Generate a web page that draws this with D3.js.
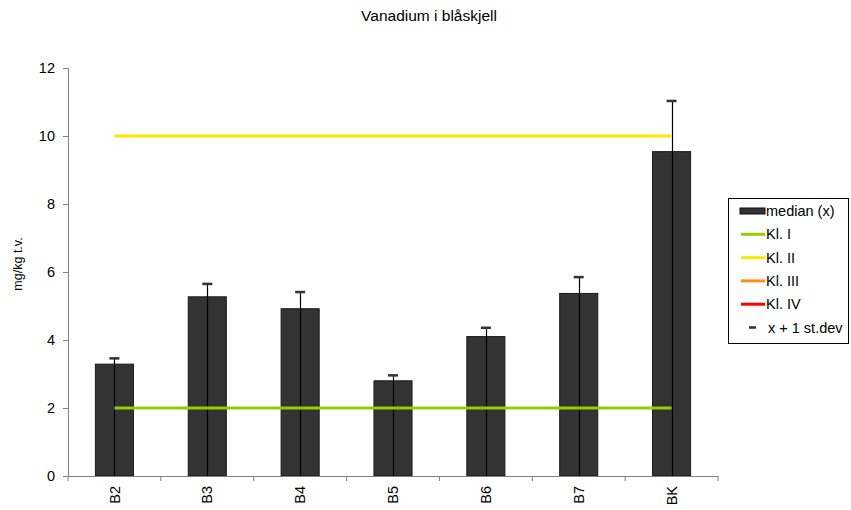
<!DOCTYPE html>
<html><head><meta charset="utf-8">
<script src="https://cdn.jsdelivr.net/npm/d3@7"></script>
<style>body{margin:0;background:#fff;} svg{display:block;font-family:"Liberation Sans",Arial,sans-serif;}</style>
</head><body>
<svg id="c" width="851" height="510"></svg>
<script>
const categories = ["B2","B3","B4","B5","B6","B7","BK"];
const medianValues = [3.29, 5.27, 4.92, 2.80, 4.10, 5.37, 9.54];
const plusStdev = [3.46, 5.65, 5.41, 2.96, 4.36, 5.85, 11.03];
const klI = [2,2,2,2,2,2,2];
const klII = [10,10,10,10,10,10,10];
const yTicks = [0,2,4,6,8,10,12];
const legendItems = ["median (x)","Kl. I","Kl. II","Kl. III","Kl. IV","x + 1 st.dev"];
const legendColors = ["#333333","#99cc00","#ffe800","#ff8c1a","#ff0000","#333333"];

const svg = d3.select("#c");
const x = d3.scaleBand().domain(categories).range([68,718]).paddingInner(0.59).paddingOuter(0.295);
const y = d3.scaleLinear().domain([0,12]).range([476,68]);
const cx = d => x(d) + x.bandwidth()/2;

svg.append("text").attr("x",429).attr("y",21).attr("text-anchor","middle")
  .attr("font-size",15.5).attr("fill","#000").text("Vanadium i blåskjell");

// y axis
const ya = svg.append("g").attr("transform","translate(68,0)")
  .call(d3.axisLeft(y).tickValues(yTicks).tickSize(5).tickPadding(8).tickFormat(d3.format("d")));
ya.select(".domain").attr("stroke","#808080");
ya.selectAll(".tick line").attr("stroke","#808080");
ya.selectAll("text").attr("font-size",14.5).attr("fill","#000").attr("font-family","Liberation Sans, Arial, sans-serif");

svg.append("text").attr("transform","translate(22,264) rotate(-90)").attr("text-anchor","middle")
  .attr("font-size",12.5).text("mg/kg t.v.");

// bars
svg.selectAll("rect.bar").data(categories).enter().append("rect").attr("class","bar")
  .attr("x",d=>x(d)).attr("width",x.bandwidth())
  .attr("y",(d,i)=>y(medianValues[i])).attr("height",(d,i)=>y(0)-y(medianValues[i]))
  .attr("fill","#333333").attr("stroke","#1a1a1a").attr("stroke-width",1);

// stdev lines
svg.selectAll("line.sd").data(categories).enter().append("line")
  .attr("x1",d=>Math.round(cx(d))+0.5).attr("x2",d=>Math.round(cx(d))+0.5)
  .attr("y1",y(0)).attr("y2",(d,i)=>y(plusStdev[i]))
  .attr("stroke","#000").attr("stroke-width",1.2);
svg.selectAll("line.cap").data(categories).enter().append("line")
  .attr("x1",d=>cx(d)-5).attr("x2",d=>cx(d)+5)
  .attr("y1",(d,i)=>y(plusStdev[i])).attr("y2",(d,i)=>y(plusStdev[i]))
  .attr("stroke","#333").attr("stroke-width",2.5);

// class lines
const line = d3.line().x((v,i)=>cx(categories[i])).y(v=>y(v));
svg.append("path").attr("d",line(klI)).attr("fill","none").attr("stroke","#99cc00").attr("stroke-width",3);
svg.append("path").attr("d",line(klII)).attr("fill","none").attr("stroke","#ffe800").attr("stroke-width",3);

// x axis
const xa = svg.append("g").attr("transform","translate(0,476)")
  .call(d3.axisBottom(x).tickSize(0).tickSizeOuter(0));
xa.select(".domain").attr("stroke","#808080");
xa.selectAll(".tick text").attr("font-size",14.5).attr("fill","#000")
  .attr("font-family","Liberation Sans, Arial, sans-serif")
  .attr("transform","rotate(-90)").attr("text-anchor","end").attr("x",-10).attr("y",0).attr("dy","0.35em");
const bounds = d3.range(categories.length+1).map(i=>68 + i*(718-68)/categories.length);
svg.selectAll("line.xt").data(bounds).enter().append("line")
  .attr("x1",d=>d).attr("x2",d=>d).attr("y1",476).attr("y2",481).attr("stroke","#808080");

// legend
const lg = svg.append("g");
lg.append("rect").attr("x",728.5).attr("y",198.5).attr("width",120).attr("height",145)
  .attr("fill","#fff").attr("stroke","#000");
legendItems.forEach((t,i)=>{
  const yy = 211 + i*23.3;
  if(i===0){
    lg.append("rect").attr("x",740).attr("y",yy-3).attr("width",25).attr("height",6).attr("fill","#333").attr("stroke","#111");
  } else if(i===5){
    lg.append("line").attr("x1",749).attr("x2",756).attr("y1",yy).attr("y2",yy).attr("stroke","#333").attr("stroke-width",2.5);
  } else {
    lg.append("line").attr("x1",741).attr("x2",765).attr("y1",yy).attr("y2",yy).attr("stroke",legendColors[i]).attr("stroke-width",3);
  }
  lg.append("text").attr("x", i===5?768:766).attr("y",yy).attr("dy","0.35em").attr("font-size",14.5).text(t);
});
</script>
</body></html>
